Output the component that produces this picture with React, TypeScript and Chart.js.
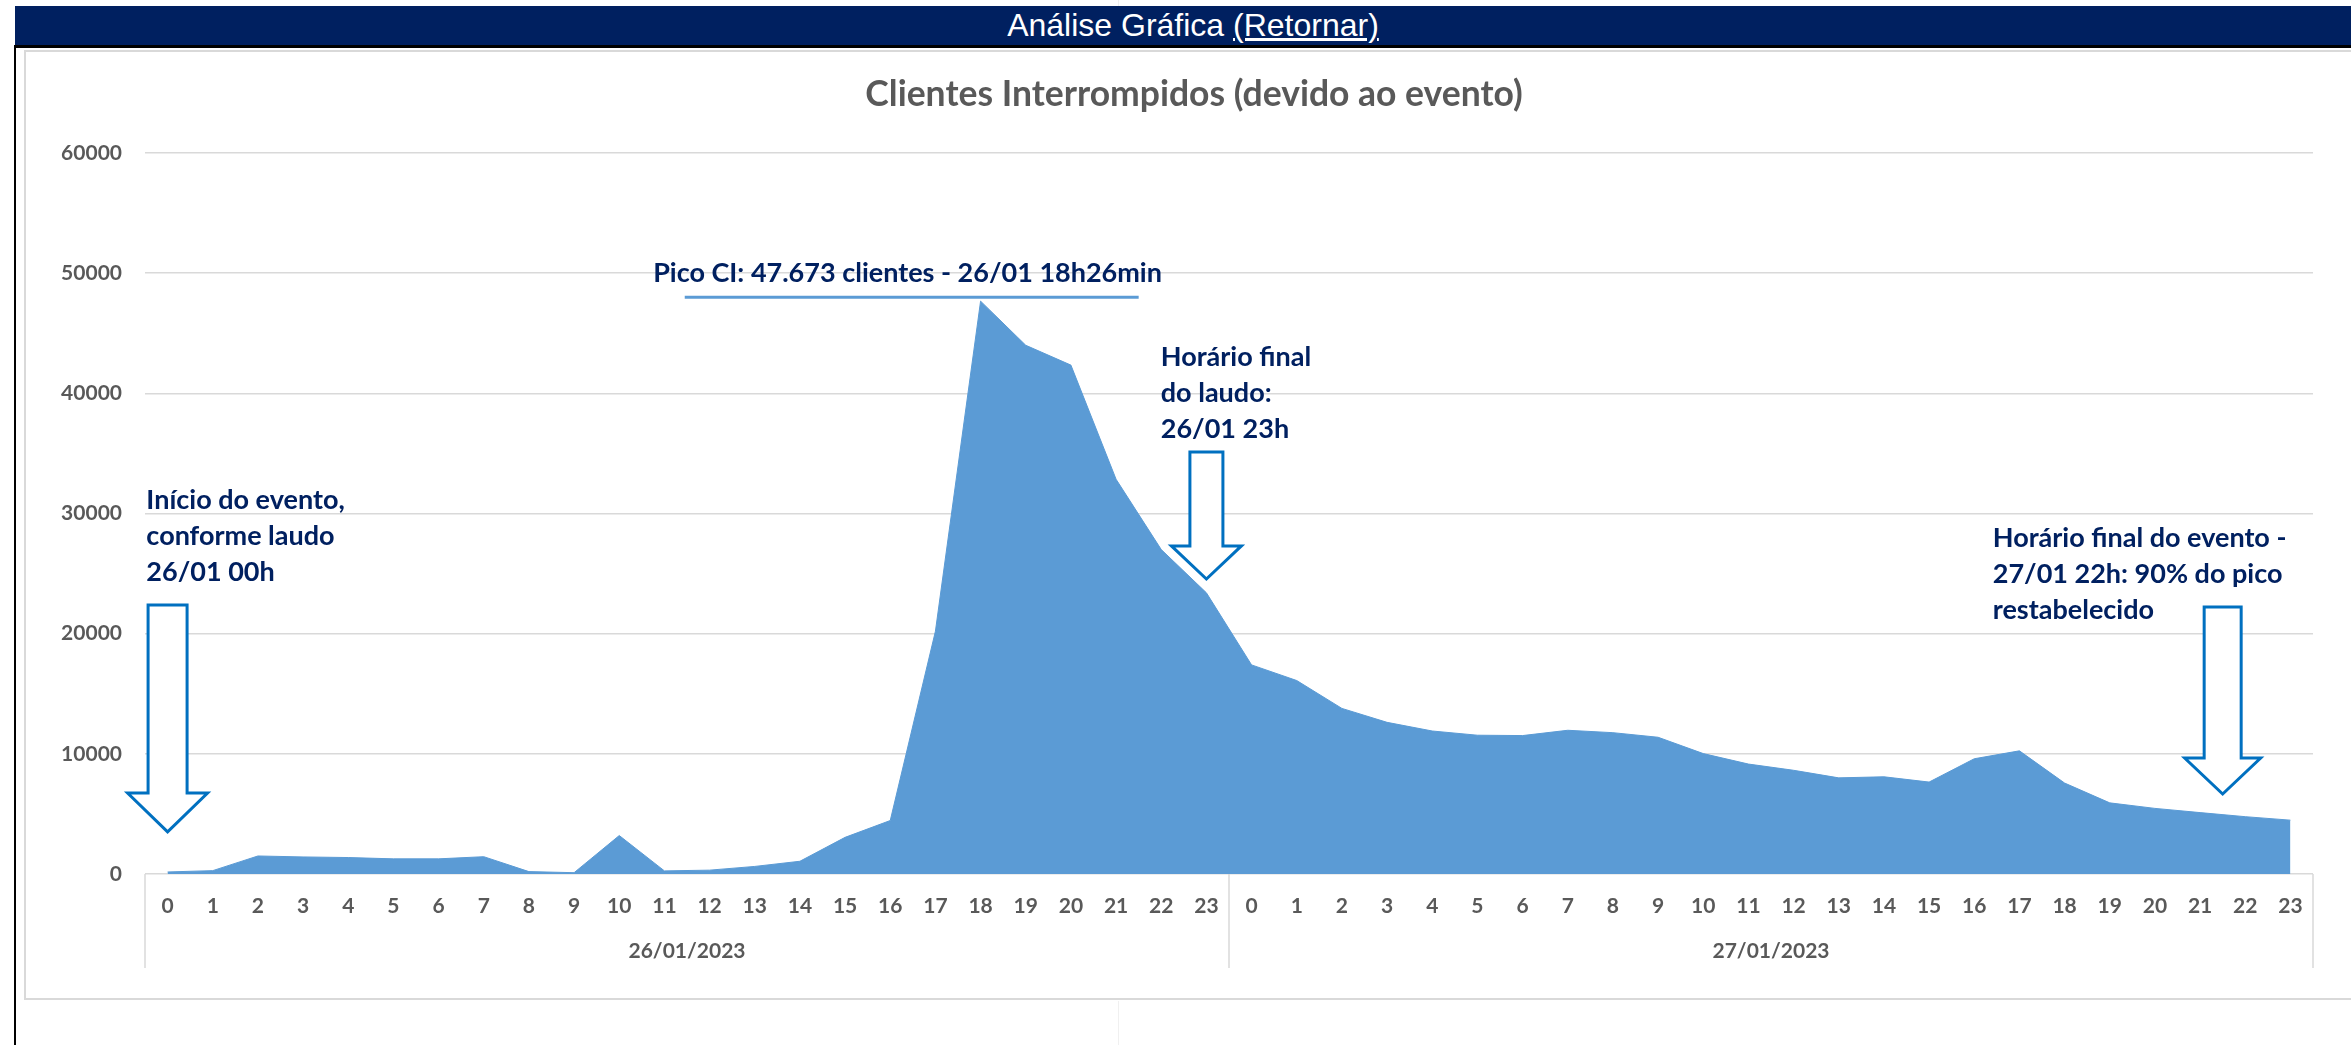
import React, { useEffect, useRef } from "react";
import { Chart, registerables } from "chart.js";

Chart.register(...registerables);

// ---------- data ----------
const hourLabels = [
  "0", "1", "2", "3", "4", "5", "6", "7", "8", "9", "10", "11",
  "12", "13", "14", "15", "16", "17", "18", "19", "20", "21", "22", "23",
];
const dayLabels = ["26/01/2023", "27/01/2023"];

const day1Values = [
  170, 280, 1500, 1420, 1370, 1260, 1260, 1440, 200, 110, 3200, 260,
  320, 630, 1060, 3050, 4450, 20200, 47673, 44000, 42350, 32850, 27000, 23400,
];
const day2Values = [
  17400, 16100, 13780, 12620, 11900, 11550, 11520, 11960, 11760, 11380, 10020, 9150,
  8630, 8000, 8090, 7650, 9590, 10250, 7570, 5920, 5460, 5110, 4770, 4480,
];

const yMin = 0;
const yMax = 60000;
const yStep = 10000;

const chartTitle = "Clientes Interrompidos (devido ao evento)";
const headerText = "Análise Gráfica ";
const headerLink = "(Retornar)";

const startNote = ["Início do evento,", "conforme laudo", "26/01 00h"];
const peakNote = ["Pico CI: 47.673 clientes - 26/01 18h26min"];
const reportEndNote = ["Horário final", "do laudo:", "26/01 23h"];
const eventEndNote = ["Horário final do evento -", "27/01 22h: 90% do pico", "restabelecido"];

// annotation anchors in data coordinates (x = category index, y = value)
const notes = [
  { lines: startNote, x: -0.47, y: 31100 },
  { lines: peakNote, x: 10.75, y: 50000 },
  { lines: reportEndNote, x: 21.99, y: 43000 },
  { lines: eventEndNote, x: 40.41, y: 27950 },
];
const arrows = [
  { x: 0, tipY: 3500, headY: 6740, topY: 22390, shaftHalf: 19.5, headHalf: 40 },
  { x: 23, tipY: 24550, headY: 27300, topY: 35120, shaftHalf: 16.5, headHalf: 35 },
  { x: 45.5, tipY: 6660, headY: 9650, topY: 22220, shaftHalf: 18.5, headHalf: 38 },
];
const peakUnderline = { x0: 11.45, x1: 21.5, y: 48000 };

// ---------- styles ----------
const W = 2351;
const H = 1045;
const AXIS_GRAY = "#595959";
const GRID = "#d9d9d9";
const AREA = "#5B9BD5";
const NAVY = "#002060";
const ARROW = "#0070C0";
const FONT = "Lato, 'Open Sans', sans-serif";

const overlayPlugin = {
  id: "overlay",
  afterDatasetsDraw(chart: any) {
    const { ctx, scales, chartArea } = chart;
    const xs = scales.x;
    const ys = scales.y;
    ctx.save();

    // title
    ctx.fillStyle = AXIS_GRAY;
    ctx.font = `bold 35.5px ${FONT}`;
    ctx.textAlign = "center";
    ctx.textBaseline = "middle";
    ctx.fillText(chartTitle, 1194, 95);

    // category group separators
    ctx.strokeStyle = GRID;
    ctx.lineWidth = 1.5;
    const sepBottom = chartArea.bottom + 94;
    const seps = [xs.left, xs.getPixelForValue(hourLabels.length - 0.5), xs.right];
    seps.forEach((sx: number) => {
      ctx.beginPath();
      ctx.moveTo(sx, chartArea.bottom);
      ctx.lineTo(sx, sepBottom);
      ctx.stroke();
    });

    // date group labels
    ctx.fillStyle = AXIS_GRAY;
    ctx.font = `bold 21px ${FONT}`;
    ctx.textAlign = "center";
    dayLabels.forEach((d, i) => {
      const a = xs.getPixelForValue(i * hourLabels.length - 0.5);
      const b = xs.getPixelForValue((i + 1) * hourLabels.length - 0.5);
      ctx.fillText(d, (a + b) / 2, chartArea.bottom + 77);
    });

    // arrows
    arrows.forEach((a) => {
      const cx = xs.getPixelForValue(a.x);
      const tip = ys.getPixelForValue(a.tipY);
      const head = ys.getPixelForValue(a.headY);
      const top = ys.getPixelForValue(a.topY);
      ctx.beginPath();
      ctx.moveTo(cx - a.shaftHalf, top);
      ctx.lineTo(cx + a.shaftHalf, top);
      ctx.lineTo(cx + a.shaftHalf, head);
      ctx.lineTo(cx + a.headHalf, head);
      ctx.lineTo(cx, tip);
      ctx.lineTo(cx - a.headHalf, head);
      ctx.lineTo(cx - a.shaftHalf, head);
      ctx.closePath();
      ctx.fillStyle = "#ffffff";
      ctx.fill();
      ctx.strokeStyle = ARROW;
      ctx.lineWidth = 3;
      ctx.lineJoin = "miter";
      ctx.stroke();
    });

    // peak underline
    ctx.strokeStyle = AREA;
    ctx.lineWidth = 3;
    ctx.beginPath();
    const uy = ys.getPixelForValue(peakUnderline.y);
    ctx.moveTo(xs.getPixelForValue(peakUnderline.x0), uy);
    ctx.lineTo(xs.getPixelForValue(peakUnderline.x1), uy);
    ctx.stroke();

    // notes
    ctx.fillStyle = NAVY;
    ctx.font = `bold 27px ${FONT}`;
    ctx.textAlign = "left";
    ctx.textBaseline = "middle";
    notes.forEach((n) => {
      const nx = xs.getPixelForValue(n.x);
      const ny = ys.getPixelForValue(n.y);
      n.lines.forEach((line, i) => {
        ctx.fillText(line, nx, ny + i * 36);
      });
    });

    ctx.restore();
  },
};

export default function App() {
  const canvasRef = useRef<HTMLCanvasElement | null>(null);

  useEffect(() => {
    const canvas = canvasRef.current;
    if (!canvas) return;
    const labels = [...hourLabels, ...hourLabels];
    const values = [...day1Values, ...day2Values];
    const tickFont = { family: FONT, size: 21, weight: "bold" as const };

    const chart = new Chart(canvas, {
      type: "line",
      data: {
        labels,
        datasets: [
          {
            label: "Clientes Interrompidos",
            data: values,
            fill: "origin",
            backgroundColor: AREA,
            borderColor: AREA,
            borderWidth: 1,
            pointRadius: 0,
            tension: 0,
          },
        ],
      },
      options: {
        responsive: false,
        animation: false,
        devicePixelRatio: 1,
        layout: { padding: { left: 0, top: 153, right: W - 2313, bottom: 0 } },
        plugins: {
          legend: { display: false },
          title: { display: false },
          tooltip: { enabled: false },
        },
        scales: {
          x: {
            type: "category",
            offset: true,
            grid: { display: false, drawTicks: false },
            border: { display: false },
            ticks: {
              autoSkip: false,
              maxRotation: 0,
              minRotation: 0,
              padding: 20,
              color: AXIS_GRAY,
              font: tickFont,
            },
            afterFit: (s: any) => {
              s.height = H - 874;
            },
          },
          y: {
            min: yMin,
            max: yMax,
            ticks: {
              stepSize: yStep,
              padding: 23,
              color: AXIS_GRAY,
              font: tickFont,
              callback: (v: any) => String(v),
            },
            grid: { color: GRID, lineWidth: 1.5, drawTicks: false },
            border: { display: false },
            afterFit: (s: any) => {
              s.width = 145;
            },
          },
        },
      },
      plugins: [overlayPlugin],
    });
    return () => chart.destroy();
  }, []);

  return (
    <div style={{ position: "absolute", left: 0, top: 0, width: W, height: H, background: "#ffffff", overflow: "hidden" }}>
      <div style={{ position: "absolute", left: 1118, top: 0, width: 1, height: 6, background: "#f0f0f0" }} />
      <div
        style={{
          position: "absolute",
          left: 15,
          top: 6,
          width: W - 15,
          height: 39,
          background: NAVY,
          color: "#ffffff",
          fontFamily: "'Liberation Sans', Arial, sans-serif",
          fontSize: 32,
          lineHeight: "39px",
          textAlign: "center",
          paddingLeft: 20,
          boxSizing: "border-box",
          whiteSpace: "nowrap",
        }}
      >
        {headerText}
        <span style={{ textDecoration: "underline" }}>{headerLink}</span>
      </div>
      <div style={{ position: "absolute", left: 14, top: 45, width: W - 14, height: 3, background: "#000000" }} />
      <div style={{ position: "absolute", left: 14, top: 45, width: 2, height: H - 45, background: "#000000" }} />
      <div
        style={{
          position: "absolute",
          left: 24,
          top: 50,
          width: W,
          height: 950,
          borderLeft: `2px solid ${GRID}`,
          borderTop: `2px solid ${GRID}`,
          borderBottom: `2px solid ${GRID}`,
          boxSizing: "border-box",
        }}
      />
      <div style={{ position: "absolute", left: 1118, top: 1001, width: 1, height: H - 1001, background: "#f0f0f0" }} />
      <canvas
        ref={canvasRef}
        width={W}
        height={H}
        style={{ position: "absolute", left: 0, top: 0, width: W, height: H }}
      />
    </div>
  );
}
